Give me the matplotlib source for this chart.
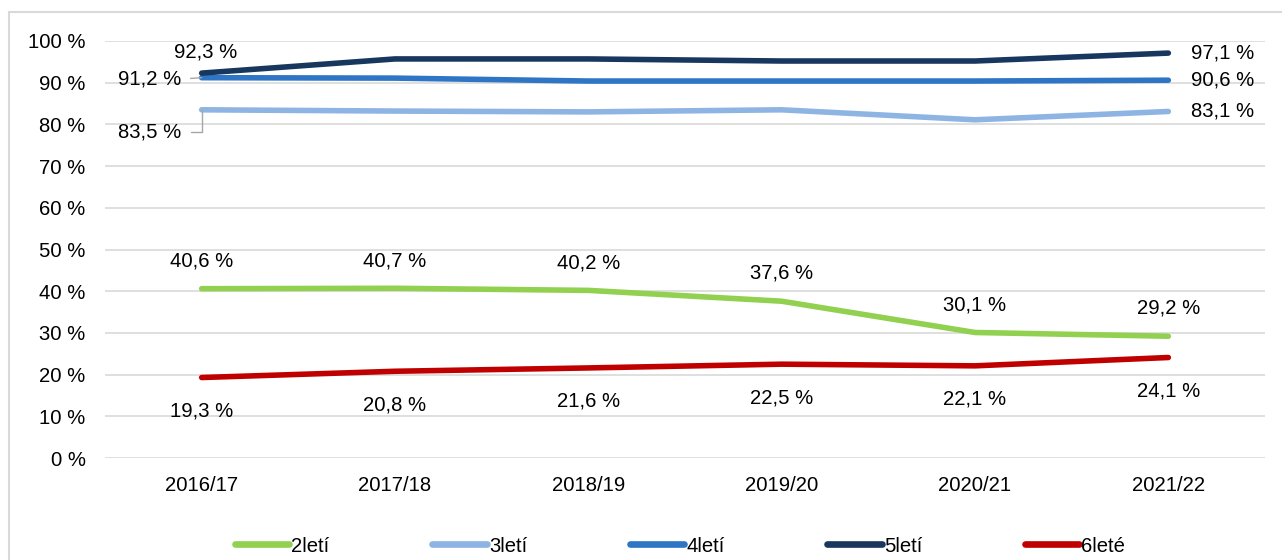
import matplotlib
matplotlib.use("Agg")
import matplotlib.pyplot as plt
from matplotlib.patches import Rectangle

plt.rcParams['font.family'] = ['Liberation Sans', 'DejaVu Sans']

years = ["2016/17", "2017/18", "2018/19", "2019/20", "2020/21", "2021/22"]
series_names = ["2letí", "3letí", "4letí", "5letí", "6leté"]
v2 = [40.6, 40.7, 40.2, 37.6, 30.1, 29.2]
v3 = [83.5, 83.2, 83.0, 83.5, 81.1, 83.1]
v4 = [91.2, 91.1, 90.4, 90.4, 90.4, 90.6]
v5 = [92.3, 95.7, 95.7, 95.2, 95.2, 97.1]
v6 = [19.3, 20.8, 21.6, 22.5, 22.1, 24.1]
yticks = [0, 10, 20, 30, 40, 50, 60, 70, 80, 90, 100]

colors = ["#92D050", "#8EB4E3", "#2E75C5", "#17375E", "#C00000"]
values = [v2, v3, v4, v5, v6]

def fmt(v):
    return f"{v:.1f}".replace(".", ",") + " %"

fig = plt.figure(figsize=(12.82, 5.60), dpi=100)
ax = fig.add_axes([105/1282, (560-458)/560, (1265-105)/1282, (458-41)/560])

x = list(range(len(years)))
lines = []
for name, vals, c in zip(series_names, values, colors):
    ln, = ax.plot(x, vals, color=c, lw=4.0, solid_capstyle='round', label=name)
    lines.append(ln)

ax.set_xlim(-0.5, len(years) - 0.5)
ax.set_ylim(0, 100)
ax.set_yticks(yticks)
ax.set_yticklabels([f"{t} %" for t in yticks])
ax.set_xticks(x)
ax.set_xticklabels(years)
ax.grid(axis='y', color='#D9D9D9', lw=1.2)
ax.set_axisbelow(True)
for s in ax.spines.values():
    s.set_visible(False)
fs = 14.6
ax.tick_params(axis='y', length=0, pad=14, labelsize=fs)
ax.tick_params(axis='x', length=0, pad=13, labelsize=fs)

# 2letí labels above
for i, v in enumerate(v2):
    ax.annotate(fmt(v), (i, v), xytext=(0, 20), textcoords='offset points',
                ha='center', va='center', fontsize=fs)
# 6leté labels below
for i, v in enumerate(v6):
    ax.annotate(fmt(v), (i, v), xytext=(0, -24), textcoords='offset points',
                ha='center', va='center', fontsize=fs)
# 5letí
ax.annotate(fmt(v5[0]), (0, v5[0]), xytext=(3, 15), textcoords='offset points',
            ha='center', va='center', fontsize=fs)
ax.annotate(fmt(v5[-1]), (5, v5[-1]), xytext=(16, 0), textcoords='offset points',
            ha='left', va='center', fontsize=fs)
# 4letí
ax.annotate(fmt(v4[0]), (0, v4[0]), xytext=(-15, -1), textcoords='offset points',
            ha='right', va='center', fontsize=fs,
            arrowprops=dict(arrowstyle='-', color='#A6A6A6', lw=1, shrinkA=5, shrinkB=0,
                            relpos=(1, 0.5)))
ax.annotate(fmt(v4[-1]), (5, v4[-1]), xytext=(16, 0), textcoords='offset points',
            ha='left', va='center', fontsize=fs)
# 3letí
ax.annotate(fmt(v3[0]), (0, v3[0]), xytext=(-15, -16), textcoords='offset points',
            ha='right', va='center', fontsize=fs,
            arrowprops=dict(arrowstyle='-', color='#A6A6A6', lw=1, shrinkA=5, shrinkB=0,
                            relpos=(1, 0.5),
                            connectionstyle='angle,angleA=0,angleB=90,rad=0'))
ax.annotate(fmt(v3[-1]), (5, v3[-1]), xytext=(16, 0), textcoords='offset points',
            ha='left', va='center', fontsize=fs)

leg = fig.legend(handles=lines, loc='center', bbox_to_anchor=(680/1282, 14/560),
                 ncol=5, frameon=False, fontsize=fs, handlelength=2.7,
                 handletextpad=0.1, columnspacing=5.05)
for h in leg.legend_handles:
    h.set_linewidth(4.8)

fig.add_artist(Rectangle((9/1282, -0.2), 1.5, (560-12)/560 + 0.2,
                         transform=fig.transFigure, fill=False,
                         edgecolor='#D9D9D9', lw=1.5))

fig.savefig("out.png", dpi=100)
